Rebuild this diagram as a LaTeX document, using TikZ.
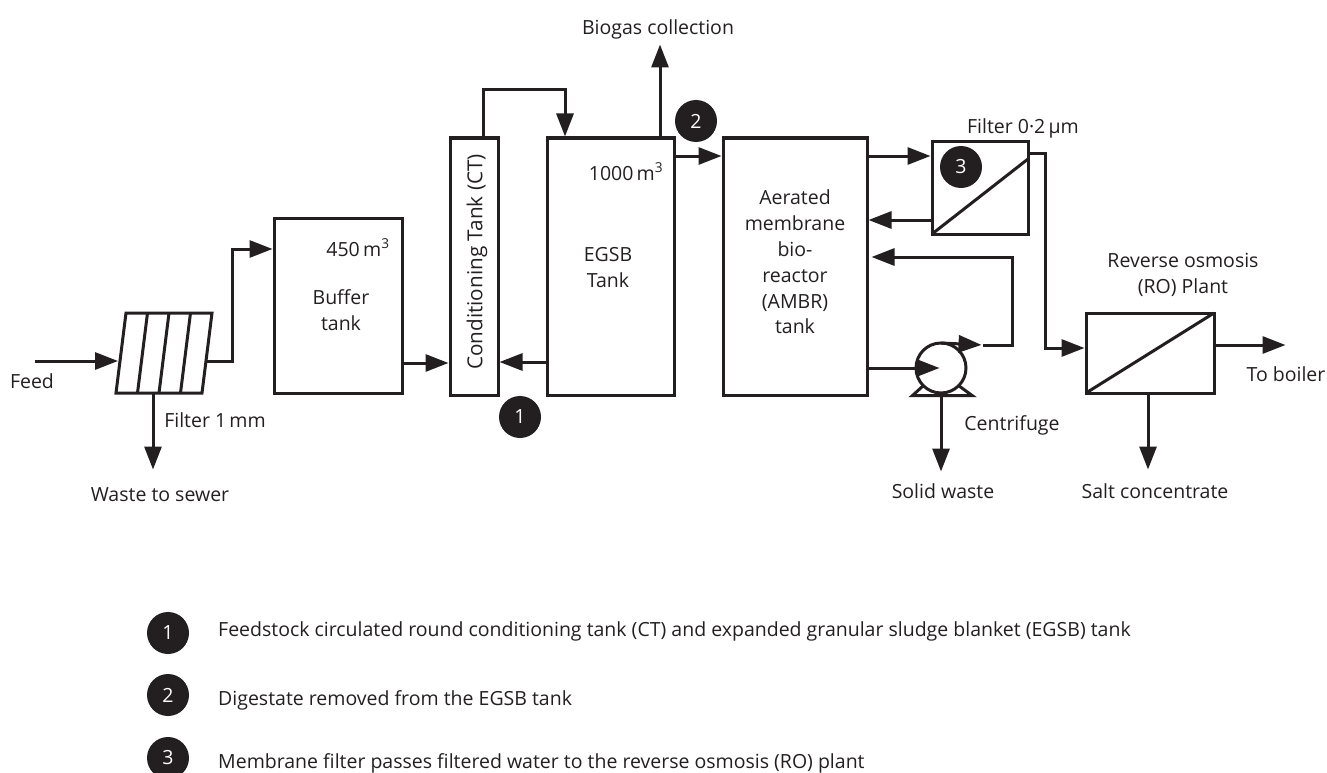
\documentclass[tikz,border=0pt]{standalone}
\usepackage{fontspec}
\setmainfont{Open Sans}
\usepackage{xcolor}
\usetikzlibrary{arrows.meta,positioning,calc}
\definecolor{ink}{HTML}{231F20}
\tikzset{
  tank/.style={draw=ink,line width=3pt,inner sep=0pt,outer sep=0pt,line join=miter},
  arr/.style={draw=ink,line width=3pt,line join=miter,
              -{Triangle[length=23pt,width=17pt]},shorten >=1.5pt},
  pipe/.style={draw=ink,line width=3pt,line join=miter},
  lbl/.style={align=center,inner sep=0pt,text=ink,
              font=\fontsize{19.5}{25.8}\selectfont},
  base lbl/.style={lbl,anchor=base},
  keynum/.style={circle,fill=ink,text=white,minimum size=42pt,inner sep=0pt,
                 font=\fontsize{19.5}{20}\selectfont},
}
\begin{document}
\begin{tikzpicture}[x=1pt,y=-1pt]
\useasboundingbox (0,0) rectangle (1327,773);

\node[tank,minimum width=86pt,minimum height=80pt,xslant=0.125,transform shape] (screen) at (164,353) {};
\foreach \i in {1,2,3}
  \draw[pipe] ($(screen.south west)!\i/4!(screen.south east)$) -- ($(screen.north west)!\i/4!(screen.north east)$);

\node[tank,minimum width=128pt,minimum height=175pt] (buffer) at (338,305.5) {};
\node[tank,right=48pt of buffer,yshift=39pt,minimum width=48pt,minimum height=257pt] (ct) {};
\node[tank,right=49pt of ct,minimum width=127pt,minimum height=257pt] (egsb) {};
\node[tank,right=49pt of egsb,minimum width=144pt,minimum height=257pt] (ambr) {};
\node[tank,right=65pt of ambr,yshift=79pt,minimum width=96pt,minimum height=93pt] (membrane) {};
\node[tank,right=58pt of membrane,yshift=-165.5pt,minimum width=128pt,minimum height=80pt] (ro) {};
\node[tank,circle,minimum size=50pt] (pump) at (941,368) {};

\draw[pipe] (membrane.south west) -- ([yshift=-18pt]membrane.north east);
\draw[pipe] (ro.south west) -- (ro.north east);
\draw[pipe] (pump.225) -- ++(-11,10) -- ++(60,0) -- (pump.-45);

\node[base lbl] (feed) at (32,388) {Feed};
\node[base lbl] (screenlbl) at (215,427) {Filter 1\,mm};
\node[base lbl] (waste) at (160,501) {Waste to sewer};
\node[base lbl] (bufvol) at (358,256) {450\,m\textsuperscript{3}};
\node[lbl,xshift=3pt,yshift=-4.5pt] (buftxt) at (buffer) {Buffer\\tank};
\node[lbl,rotate=90,font=\fontsize{20.7}{25}\selectfont] (cttxt) at (477,262) {Conditioning Tank (CT)};
\node[base lbl] (egsbvol) at (626,180) {1000\,m\textsuperscript{3}};
\node[lbl,yshift=-1pt,xshift=-2.5pt] (egsbtxt) at (egsb) {EGSB\\Tank};
\node[lbl,yshift=4.5pt] (ambrtxt) at (ambr) {Aerated\\membrane\\bio-\\reactor\\(AMBR)\\tank};
\node[base lbl] (biogas) at (658,35) {Biogas collection};
\node[base lbl] (memlbl) at (1023,133) {Filter 0·2\,µm};
\node[lbl] (rolbl) at (1183,275) {Reverse osmosis\\(RO) Plant};
\node[base lbl] (boiler) at (1286,381) {To boiler};
\node[base lbl] (centrifuge) at (1012,430) {Centrifuge};
\node[base lbl] (solid) at (943,498) {Solid waste};
\node[base lbl] (salt) at (1155,498) {Salt concentrate};

\coordinate (feedin) at (35,361);
\coordinate (recirc) at (483,90);
\coordinate (pumpout) at (983,345);
\coordinate (wasteout) at ([xshift=-6pt]screen.south);
\coordinate (bufin) at ([yshift=56.5pt]buffer.west);
\coordinate (bufout) at ([yshift=-57.5pt]buffer.east);
\coordinate (egsbback) at ([yshift=-95.5pt]egsb.west);
\coordinate (egsbout) at ([yshift=110.5pt]egsb.east);
\coordinate (ambrtop) at ([yshift=31.5pt]membrane.west);
\coordinate (ambrback) at ([yshift=-32.5pt]membrane.west);
\coordinate (pumpback) at ([xshift=3pt,yshift=9.5pt]ambr.east);

\draw[arr,shorten >=3pt] (feedin) -- (feedin -| screen.west);
\draw[arr] (screen.east |- feedin) -- ++(25,0) |- (bufin);
\draw[arr] (wasteout) -- ++(0,78);
\draw[arr] (bufout) -- (bufout -| ct.west);
\draw[arr] (egsbback) -- (egsbback -| ct.east);
\draw[arr] (recirc |- ct.north) -- (recirc) -| ([xshift=-45.5pt]egsb.north);
\draw[arr] ([xshift=49.5pt]egsb.north) -- ++(0,-95);
\draw[arr] (egsbout) -- (egsbout -| ambr.west);
\draw[arr] (ambrtop -| ambr.east) -- (ambrtop);
\draw[arr] (ambrback) -- (ambrback -| ambr.east);
\draw[arr] ([yshift=34.5pt]membrane.east) -- ++(17,0) |- ([yshift=5pt]ro.west);
\draw[arr] ([yshift=8pt]ro.east) -- ++(73,0);
\draw[arr] ([xshift=-2pt]ro.south) -- ++(0,78);
\draw[arr] (ambr.east |- pump) -- (pump.center);
\draw[arr] (pump.north) -- (pumpout);
\draw[arr] (pumpout) -- ++(29,0) |- (pumpback);
\draw[arr] ([yshift=-3pt]pump.south) -- ++(0,77);

\node[keynum] (one) at (520,417) {1};
\node[keynum] (two) at (696,121) {2};
\node[keynum] (three) at (961,167) {3};

\node[keynum] (keyone) at (168,633) {1};
\node[keynum] (keytwo) at (168,695) {2};
\node[keynum] (keythree) at (168,758) {3};
\node[lbl,anchor=base west] (txtone) at (218,636) {Feedstock circulated round conditioning tank (CT) and expanded granular sludge blanket (EGSB) tank};
\node[lbl,anchor=base west] (txttwo) at (218,705) {Digestate removed from the EGSB tank};
\node[lbl,anchor=base west] (txtthree) at (218,768) {Membrane filter passes filtered water to the reverse osmosis (RO) plant};
\end{tikzpicture}
\end{document}
